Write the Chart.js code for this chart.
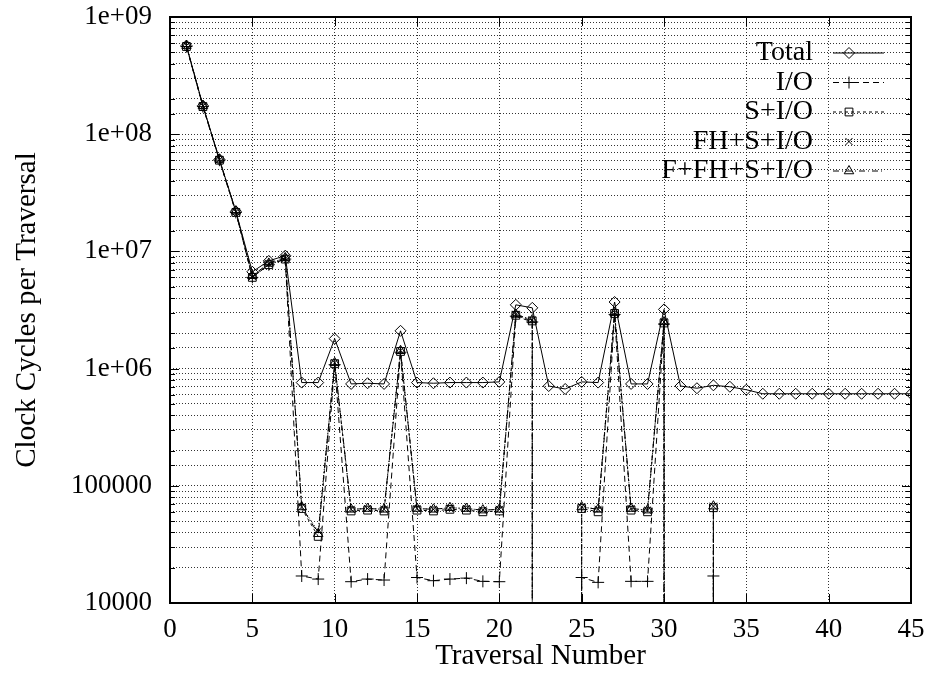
<!DOCTYPE html>
<html>
<head>
<meta charset="utf-8">
<script src="https://cdn.jsdelivr.net/npm/chart.js@4.4.1/dist/chart.umd.min.js"></script>
<style>
  html, body { margin: 0; padding: 0; background: #fff; }
</style>
</head>
<body>
<canvas id="chart" width="928" height="675"></canvas>
<script>
// traversal numbers along x
const traversal = [1, 2, 3, 4, 5, 6, 7, 8, 9, 10, 11, 12, 13, 14, 15, 16, 17, 18, 19, 20,
  21, 22, 23, 24, 25, 26, 27, 28, 29, 30, 31, 32, 33, 34, 35, 36, 37, 38, 39, 40,
  41, 42, 43, 44, 45];

// clock cycles per traversal (0 = nothing measured, gnuplot drops the line to the axis)
const total = [5.7e8, 1.75e8, 6.1e7, 2.2e7, 6.7e6, 8.3e6, 9.2e6, 7.6e5, 7.6e5, 1.8e6,
  7.4e5, 7.5e5, 7.4e5, 2.1e6, 7.6e5, 7.5e5, 7.6e5, 7.6e5, 7.6e5, 7.7e5,
  3.5e6, 3.3e6, 7.1e5, 6.7e5, 7.7e5, 7.6e5, 3.7e6, 7.4e5, 7.4e5, 3.2e6,
  7.1e5, 6.8e5, 7.2e5, 7.0e5, 6.6e5, 6.1e5, 6.1e5, 6.1e5, 6.1e5, 6.1e5,
  6.1e5, 6.1e5, 6.1e5, 6.1e5, 6.1e5];

const io = [5.6e8, 1.72e8, 6.0e7, 2.15e7, 6.0e6, 7.7e6, 8.6e6, 1.7e4, 1.6e4, 1.08e6,
  1.52e4, 1.6e4, 1.57e4, 1.38e6, 1.65e4, 1.55e4, 1.6e4, 1.63e4, 1.53e4, 1.52e4,
  2.8e6, 2.5e6, 0, 0, 1.65e4, 1.5e4, 2.9e6, 1.53e4, 1.53e4, 2.4e6,
  0, 0, 1.7e4, 0, 0, 0, 0, 0, 0, 0,
  0, 0, 0, 0, 0];

const sio = [5.6e8, 1.72e8, 6.0e7, 2.15e7, 6.0e6, 7.7e6, 8.6e6, 6.4e4, 3.7e4, 1.1e6,
  6.1e4, 6.2e4, 6.1e4, 1.4e6, 6.2e4, 6.1e4, 6.3e4, 6.2e4, 6.0e4, 6.1e4,
  2.85e6, 2.55e6, 0, 0, 6.4e4, 6.0e4, 2.95e6, 6.2e4, 6.0e4, 2.45e6,
  0, 0, 6.5e4, 0, 0, 0, 0, 0, 0, 0,
  0, 0, 0, 0, 0];

const fhsio = [5.7e8, 1.74e8, 6.05e7, 2.18e7, 6.1e6, 7.8e6, 8.7e6, 6.6e4, 4.1e4, 1.12e6,
  6.3e4, 6.4e4, 6.3e4, 1.42e6, 6.4e4, 6.3e4, 6.5e4, 6.4e4, 6.2e4, 6.3e4,
  2.9e6, 2.6e6, 0, 0, 6.6e4, 6.3e4, 3.0e6, 6.4e4, 6.2e4, 2.5e6,
  0, 0, 6.7e4, 0, 0, 0, 0, 0, 0, 0,
  0, 0, 0, 0, 0];

const ffhsio = [5.7e8, 1.75e8, 6.1e7, 2.2e7, 6.2e6, 7.9e6, 8.8e6, 6.6e4, 3.9e4, 1.12e6,
  6.3e4, 6.4e4, 6.3e4, 1.42e6, 6.4e4, 6.3e4, 6.5e4, 6.4e4, 6.2e4, 6.3e4,
  2.9e6, 2.6e6, 0, 0, 6.6e4, 6.3e4, 3.0e6, 6.4e4, 6.2e4, 2.5e6,
  0, 0, 6.7e4, 0, 0, 0, 0, 0, 0, 0,
  0, 0, 0, 0, 0];

const FLOOR = 1; // stand-in for zero on the log axis, far below the plot and clipped
const FONT = 'Liberation Serif';
const GRID = 'rgba(0,0,0,0.8)';

// zero readings become a vertical drop at the neighbouring measured traversal
function toPoints(vals) {
  const pts = [];
  vals.forEach((v, i) => {
    if (v > 0) { pts.push({ x: traversal[i], y: v }); return; }
    if (vals[i - 1] > 0) pts.push({ x: traversal[i - 1], y: FLOOR });
    if (vals[i + 1] > 0) pts.push({ x: traversal[i + 1], y: FLOOR });
  });
  return pts;
}

function series(label, vals, dash, style, radius) {
  return {
    label,
    data: toPoints(vals),
    borderColor: '#000',
    borderWidth: 1,
    borderDash: dash,
    pointStyle: style,
    pointRadius: radius,
    pointBorderWidth: 1,
    pointBorderColor: '#000',
    pointBackgroundColor: 'rgba(0,0,0,0)',
    tension: 0,
    fill: false
  };
}

function isDecade(v) {
  const e = Math.log10(v);
  return Math.abs(e - Math.round(e)) < 1e-9;
}

// frame round the plot + gnuplot style inward ticks
const framePlugin = {
  id: 'frame',
  afterDraw(chart) {
    const { ctx, chartArea: a, scales } = chart;
    ctx.save();
    ctx.strokeStyle = '#000';
    ctx.lineWidth = 1;
    ctx.beginPath();
    scales.y.ticks.forEach(t => {
      const y = Math.round(scales.y.getPixelForValue(t.value)) + 0.5;
      const len = isDecade(t.value) ? 9 : 5;
      ctx.moveTo(a.left, y); ctx.lineTo(a.left + len, y);
      ctx.moveTo(a.right, y); ctx.lineTo(a.right - len, y);
    });
    scales.x.ticks.forEach(t => {
      const x = Math.round(scales.x.getPixelForValue(t.value)) + 0.5;
      ctx.moveTo(x, a.bottom); ctx.lineTo(x, a.bottom - 9);
      ctx.moveTo(x, a.top); ctx.lineTo(x, a.top + 9);
    });
    ctx.stroke();
    ctx.lineWidth = 2;
    ctx.strokeRect(Math.round(a.left), Math.round(a.top), Math.round(a.right - a.left), Math.round(a.bottom - a.top));
    ctx.restore();
  }
};

// key: text right-aligned, then line sample with its marker
const keyPlugin = {
  id: 'key',
  afterDraw(chart) {
    const { ctx, chartArea: a } = chart;
    chart.data.datasets.forEach((ds, i) => {
      const y = a.top + 36 + i * 29.5;
      ctx.save();
      ctx.font = '28px "' + FONT + '"';
      ctx.fillStyle = '#000';
      ctx.textAlign = 'right';
      ctx.textBaseline = 'middle';
      ctx.fillText(ds.label, a.right - 98, y);
      ctx.strokeStyle = '#000';
      ctx.lineWidth = 1;
      ctx.setLineDash(ds.borderDash);
      ctx.beginPath();
      ctx.moveTo(a.right - 78, y);
      ctx.lineTo(a.right - 27, y);
      ctx.stroke();
      ctx.setLineDash([]);
      ctx.fillStyle = 'rgba(0,0,0,0)';
      if (Chart.helpers && Chart.helpers.drawPoint) {
        Chart.helpers.drawPoint(ctx, { pointStyle: ds.pointStyle, radius: ds.pointRadius, borderWidth: 1, rotation: 0 }, a.right - 62, y);
      }
      ctx.restore();
    });
  }
};

new Chart(document.getElementById('chart'), {
  type: 'line',
  data: {
    datasets: [
      series('Total', total, [], 'rectRot', 5.5),
      series('I/O', io, [6, 4], 'cross', 6),
      series('S+I/O', sio, [3, 3], 'rect', 5.5),
      series('FH+S+I/O', fhsio, [1, 2], 'crossRot', 5),
      series('F+FH+S+I/O', ffhsio, [6, 3, 1, 3], 'triangle', 5.5)
    ]
  },
  options: {
    responsive: false,
    animation: false,
    events: [],
    layout: { padding: { top: 17, right: 17, left: 0, bottom: 0 } },
    plugins: { legend: { display: false }, tooltip: { enabled: false } },
    scales: {
      x: {
        type: 'linear',
        min: 0,
        max: 45,
        ticks: { stepSize: 5, padding: 11, color: '#000', font: { family: FONT, size: 27 } },
        grid: { color: GRID, lineWidth: 1, drawTicks: false },
        border: { display: false, dash: [1, 2] },
        title: { display: true, text: 'Traversal Number', color: '#000', font: { family: FONT, size: 29 }, padding: { top: 0, bottom: 1 } },
        afterFit: s => { s.height = 72; s.paddingLeft = 0; s.paddingRight = 0; }
      },
      y: {
        type: 'logarithmic',
        min: 1e4,
        max: 1e9,
        ticks: {
          autoSkip: false,
          padding: 18,
          color: '#000',
          font: { family: FONT, size: 27 },
          callback: v => {
            if (!isDecade(v)) return '';
            const e = Math.round(Math.log10(v));
            return e >= 6 ? '1e+' + String(e).padStart(2, '0') : String(Math.pow(10, e));
          }
        },
        grid: { color: GRID, lineWidth: 1, drawTicks: false },
        border: { display: false, dash: [1, 2] },
        title: { display: true, text: 'Clock Cycles per Traversal', color: '#000', font: { family: FONT, size: 29 }, padding: { top: 10, bottom: 0 } },
        afterFit: s => { s.width = 170; s.paddingTop = 0; s.paddingBottom = 0; }
      }
    }
  },
  plugins: [framePlugin, keyPlugin]
});
</script>
</body>
</html>
